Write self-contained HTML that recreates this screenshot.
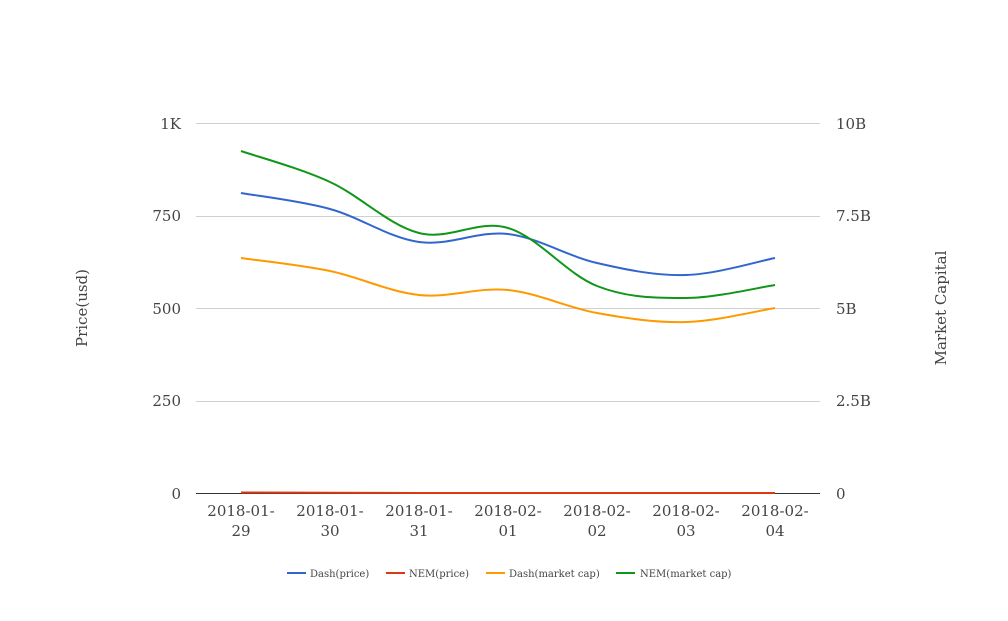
<!DOCTYPE html>
<html><head><meta charset="utf-8"><style>
body{margin:0;background:#fff}
text{font-family:"DejaVu Serif","Liberation Serif",serif;fill:#444}
</style></head><body>
<svg id="s" width="1008" height="616" xmlns="http://www.w3.org/2000/svg">
<g stroke="#d0d0d0" stroke-width="1">
<line x1="196" x2="820" y1="123.5" y2="123.5"/>
<line x1="196" x2="820" y1="216.5" y2="216.5"/>
<line x1="196" x2="820" y1="308.5" y2="308.5"/>
<line x1="196" x2="820" y1="401.5" y2="401.5"/>
</g>
<line x1="196" x2="820" y1="493.5" y2="493.5" stroke="#333"/>
<g font-size="15" text-anchor="end">
<text x="181" y="129">1K</text><text x="181" y="221">750</text><text x="181" y="314">500</text><text x="181" y="406">250</text><text x="181" y="499">0</text>
</g>
<g font-size="15" text-anchor="start">
<text x="836" y="129">10B</text><text x="836" y="221">7.5B</text><text x="836" y="314">5B</text><text x="836" y="406">2.5B</text><text x="836" y="499">0</text>
</g>
<g font-size="15" text-anchor="middle">
<text x="241" y="516">2018-01-</text><text x="241" y="536">29</text>
<text x="330" y="516">2018-01-</text><text x="330" y="536">30</text>
<text x="419" y="516">2018-01-</text><text x="419" y="536">31</text>
<text x="508" y="516">2018-02-</text><text x="508" y="536">01</text>
<text x="597" y="516">2018-02-</text><text x="597" y="536">02</text>
<text x="686" y="516">2018-02-</text><text x="686" y="536">03</text>
<text x="775" y="516">2018-02-</text><text x="775" y="536">04</text>
</g>
<text font-size="15" transform="translate(87,308) rotate(-90)" text-anchor="middle">Price(usd)</text>
<text font-size="15" transform="translate(946,308) rotate(-90)" text-anchor="middle">Market Capital</text>
<g font-size="10">
<line x1="287" x2="306" y1="573" y2="573" stroke="#3366cc" stroke-width="2"/><text x="310" y="577">Dash(price)</text>
<line x1="386" x2="405" y1="573" y2="573" stroke="#dc3912" stroke-width="2"/><text x="409" y="577">NEM(price)</text>
<line x1="486" x2="505" y1="573" y2="573" stroke="#ff9900" stroke-width="2"/><text x="509" y="577">Dash(market cap)</text>
<line x1="616" x2="635" y1="573" y2="573" stroke="#109618" stroke-width="2"/><text x="640" y="577">NEM(market cap)</text>
</g>
<g id="lines" fill="none" stroke-width="2"></g>
</svg>
<script>
var X=[241,330,419,508,597,686,775];
var S=[
["#dc3912",[492.5,492.7,493,493,493,493,493]],
["#ff9900",[258,271,295,290,313,322,308]],
["#3366cc",[193,209,242,234,263,275,258]],
["#109618",[151,182,233,228,286,298,285]]];
function path(ys){var d="M"+X[0]+","+ys[0];for(var i=0;i<ys.length-1;i++){
var p0=[X[Math.max(i-1,0)],ys[Math.max(i-1,0)]],p1=[X[i],ys[i]],p2=[X[i+1],ys[i+1]],p3=[X[Math.min(i+2,6)],ys[Math.min(i+2,6)]];
var t=0.17;
var c1=[p1[0]+(p2[0]-p0[0])*t,p1[1]+(p2[1]-p0[1])*t],c2=[p2[0]-(p3[0]-p1[0])*t,p2[1]-(p3[1]-p1[1])*t];
d+=" C"+c1+" "+c2+" "+p2;}return d;}
var g=document.getElementById("lines");
S.forEach(function(s){var p=document.createElementNS("http://www.w3.org/2000/svg","path");p.setAttribute("d",path(s[1]));p.setAttribute("stroke",s[0]);g.appendChild(p);});
</script>
</body></html>
